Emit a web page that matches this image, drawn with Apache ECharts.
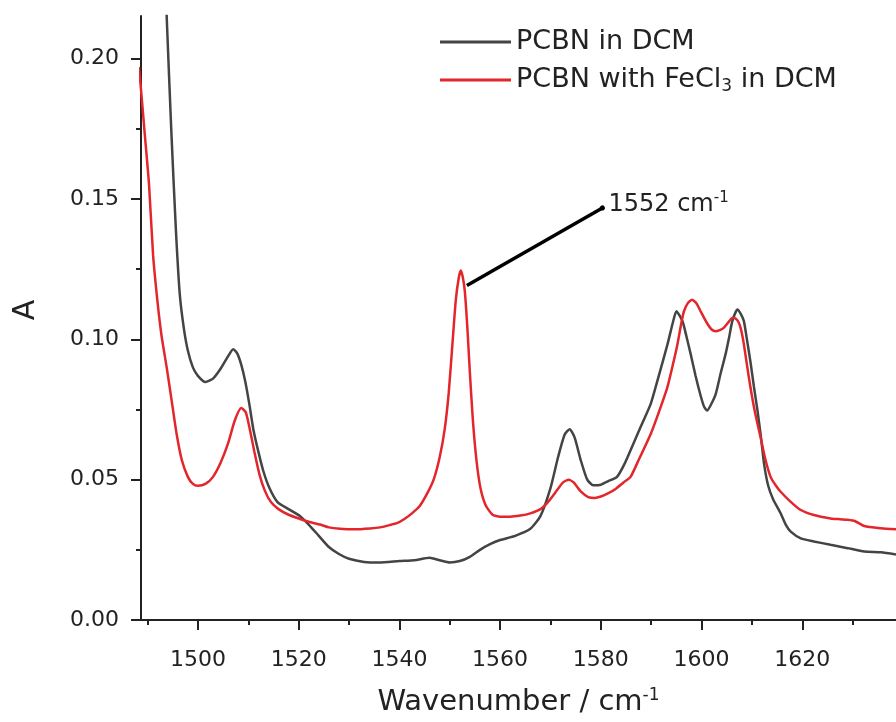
<!DOCTYPE html>
<html>
<head>
<meta charset="utf-8">
<script src="https://cdn.jsdelivr.net/npm/echarts@6/dist/echarts.min.js"></script>
<style>
html,body{margin:0;padding:0;background:#fff;}
#chart{width:896px;height:722px;}
</style>
</head>
<body>
<div id="chart"></div>
<script>
// Wavenumber (cm-1) and absorbance values
const pcbnX = [1492.8,1493.8,1494.7,1495.6,1496.4,1497.2,1498.0,1499.0,1500.0,1501.5,1503.0,1504.5,1506.0,1507.0,1507.8,1508.6,1509.4,1510.2,1511.0,1512.0,1513.0,1514.2,1515.8,1518,1520.3,1522,1524,1526,1528,1530,1533,1536,1540,1543,1546,1548,1550,1552,1554,1556,1558,1560,1563,1566,1568,1570,1571.5,1572.8,1573.8,1574.8,1576,1577.3,1578.5,1580,1581.5,1583.2,1584.8,1586.5,1588.2,1589.9,1591.5,1593.2,1594.3,1595.0,1596.2,1597.0,1597.8,1598.8,1599.8,1600.5,1601.1,1601.8,1602.8,1603.8,1604.8,1605.5,1606.1,1607.1,1607.8,1608.4,1609.0,1609.7,1610.4,1611.1,1611.8,1612.4,1613.2,1614.2,1615.7,1616.7,1617.7,1619.7,1622.3,1625.6,1629,1632.3,1635.6,1638.6];
const pcbnY = [0.262,0.215,0.175,0.140,0.116,0.104,0.096,0.090,0.087,0.0848,0.0860,0.0895,0.094,0.0965,0.095,0.091,0.085,0.077,0.068,0.060,0.053,0.047,0.042,0.0395,0.037,0.034,0.030,0.026,0.0235,0.0218,0.0207,0.0205,0.021,0.0213,0.0222,0.0213,0.0205,0.021,0.0225,0.025,0.027,0.0285,0.030,0.0325,0.037,0.047,0.058,0.066,0.068,0.065,0.057,0.050,0.048,0.0482,0.0495,0.051,0.056,0.063,0.070,0.077,0.087,0.098,0.106,0.110,0.1065,0.101,0.095,0.087,0.080,0.076,0.0746,0.0765,0.0805,0.088,0.095,0.101,0.1065,0.1106,0.109,0.1065,0.100,0.092,0.083,0.0746,0.065,0.0557,0.048,0.043,0.038,0.034,0.0315,0.0291,0.028,0.0268,0.0256,0.0244,0.0241,0.0233];

const fecl3X = [1488.3,1488.7,1489.5,1490.3,1491.1,1492.0,1492.8,1493.8,1494.8,1495.8,1496.8,1498.0,1499,1500,1501.5,1503,1504.5,1506,1507.3,1508.6,1509.5,1510.3,1511.2,1512.2,1513.3,1514.5,1516,1518,1520.3,1522,1524.3,1526,1528.2,1531,1534.2,1536.2,1538,1539.5,1541,1542.5,1544,1545.5,1546.8,1548.0,1549.0,1549.8,1550.6,1551.2,1551.8,1552.2,1552.6,1553.0,1553.5,1554.0,1554.6,1555.3,1556.1,1557.1,1558.5,1560,1562,1564,1566,1568,1569.5,1571,1572.5,1573.6,1574.6,1576,1577.5,1578.8,1580,1581.5,1583,1584.5,1585.9,1587.5,1589.9,1591.5,1593.2,1594.3,1595.2,1596.0,1596.5,1597.3,1598.1,1599.0,1599.8,1601.0,1602.0,1602.8,1603.6,1604.4,1605.2,1606.1,1606.7,1607.4,1607.9,1608.4,1609.0,1609.7,1610.6,1611.7,1612.7,1613.7,1614.7,1615.7,1617.7,1619.7,1622.3,1625.6,1627.5,1629,1630.5,1632.3,1635.6,1638.6];
const fecl3Y = [0.197,0.189,0.172,0.155,0.130,0.113,0.101,0.090,0.078,0.066,0.057,0.051,0.0485,0.0478,0.0485,0.051,0.056,0.063,0.071,0.0755,0.074,0.068,0.060,0.052,0.046,0.042,0.0395,0.0375,0.036,0.035,0.034,0.033,0.0325,0.0323,0.0326,0.033,0.0338,0.0345,0.036,0.038,0.0405,0.045,0.050,0.058,0.068,0.081,0.100,0.114,0.122,0.1245,0.122,0.117,0.104,0.088,0.071,0.057,0.047,0.041,0.0375,0.0368,0.0368,0.0372,0.038,0.0395,0.042,0.0455,0.049,0.050,0.049,0.0458,0.0438,0.0435,0.044,0.0452,0.0468,0.049,0.051,0.057,0.0663,0.074,0.0829,0.091,0.0982,0.106,0.110,0.113,0.1141,0.1128,0.110,0.106,0.1035,0.1029,0.1033,0.1041,0.1058,0.1076,0.1075,0.1059,0.103,0.0982,0.091,0.0829,0.074,0.0652,0.057,0.051,0.048,0.0457,0.0421,0.0392,0.0374,0.0362,0.0359,0.0357,0.0352,0.0335,0.0327,0.0323];

const seriesNames = ['PCBN in DCM', 'PCBN with FeCl3 in DCM'];
const xMajorTicks = [1500,1520,1540,1560,1580,1600,1620];
const xMinorTicks = [1490,1510,1530,1550,1570,1590,1610,1630];
const yMajorTicks = [0,0.05,0.10,0.15,0.20];
const yMinorTicks = [0.025,0.075,0.125,0.175];
const annotationFrom = [1553.4, 0.1192];
const annotationTo = [1580.3, 0.1468];
const annotationText = '1552 cm{sup|-1}';

const X_MIN = 1488.7, X_MAX = 1638.6, Y_MIN = 0, Y_MAX = 0.2152;
const FONT = 'DejaVu Sans';
const INK = '#222';

function zip(xs, ys){ return xs.map((x,i)=>[x, ys[i]]); }

const chart = echarts.init(document.getElementById('chart'), null, {renderer:'canvas'});
const axisLine = {show:true, lineStyle:{color:INK, width:2}};
chart.setOption({
  animation:false,
  backgroundColor:'#fff',
  grid:{left:141, right:0, top:16, bottom:98, containLabel:false},
  legend:{
    orient:'vertical', left:435, top:22, itemWidth:71, itemHeight:3, itemGap:8,
    icon:'rect',
    data:seriesNames,
    formatter:function(n){ return n.replace('FeCl3','FeCl{sub|3}'); },
    textStyle:{fontFamily:FONT, fontSize:27, color:INK, lineHeight:30,
      rich:{sub:{fontFamily:FONT, fontSize:17, color:INK, verticalAlign:'bottom', padding:[12,0,0,0]}}}
  },
  xAxis:[{
    type:'value', min:X_MIN, max:X_MAX, position:'bottom',
    axisLine:axisLine,
    axisTick:{show:true, length:10, lineStyle:{color:INK,width:2}, customValues:xMajorTicks},
    axisLabel:{show:true, customValues:xMajorTicks, margin:29, fontFamily:FONT, fontSize:22, color:INK,
      formatter:function(v){ return String(Math.round(v)); }},
    splitLine:{show:false},
    name:'Wavenumber / cm{sup|-1}', nameLocation:'middle', nameGap:67,
    nameTextStyle:{fontFamily:FONT, fontSize:29, color:INK,
      rich:{sup:{fontFamily:FONT, fontSize:17, color:INK, verticalAlign:'top', padding:[0,0,14,0]}}}
  },{
    type:'value', min:X_MIN, max:X_MAX, position:'bottom',
    axisLine:{show:false},
    axisTick:{show:true, length:5, lineStyle:{color:INK,width:2}, customValues:xMinorTicks},
    axisLabel:{show:false}, splitLine:{show:false}
  }],
  yAxis:[{
    type:'value', min:Y_MIN, max:Y_MAX, position:'left',
    axisLine:axisLine,
    axisTick:{show:true, length:10, lineStyle:{color:INK,width:2}, customValues:yMajorTicks},
    axisLabel:{show:true, customValues:yMajorTicks, margin:22, fontFamily:FONT, fontSize:22, color:INK,
      formatter:function(v){ return v.toFixed(2); }},
    splitLine:{show:false},
    name:'A', nameLocation:'middle', nameGap:100, nameRotate:90,
    nameTextStyle:{fontFamily:FONT, fontSize:30, color:INK, padding:[0,0,0,16]}
  },{
    type:'value', min:Y_MIN, max:Y_MAX, position:'left',
    axisLine:{show:false},
    axisTick:{show:true, length:5, lineStyle:{color:INK,width:2}, customValues:yMinorTicks},
    axisLabel:{show:false}, splitLine:{show:false}
  }],
  series:[{
    name:seriesNames[0], type:'line', xAxisIndex:0, yAxisIndex:0,
    data:zip(pcbnX, pcbnY), showSymbol:false, smooth:0.2,
    lineStyle:{color:'#444', width:2.5}, itemStyle:{color:'#444'}, clip:true, z:2
  },{
    name:seriesNames[1], type:'line', xAxisIndex:0, yAxisIndex:0,
    data:zip(fecl3X, fecl3Y), showSymbol:false, smooth:0.2,
    lineStyle:{color:'#e2262b', width:2.5}, itemStyle:{color:'#e2262b'}, clip:true, z:3,
    markLine:{
      silent:true, symbol:['none','circle'], symbolSize:5,
      lineStyle:{color:'#000', width:3.5, type:'solid'},
      label:{show:true, position:'end', distance:7, formatter:annotationText,
        fontFamily:FONT, fontSize:24, color:INK,
        rich:{sup:{fontFamily:FONT, fontSize:15, color:INK, verticalAlign:'top', padding:[0,0,12,0]}}},
      data:[[{coord:annotationFrom},{coord:annotationTo}]]
    }
  }]
});
</script>
</body>
</html>
